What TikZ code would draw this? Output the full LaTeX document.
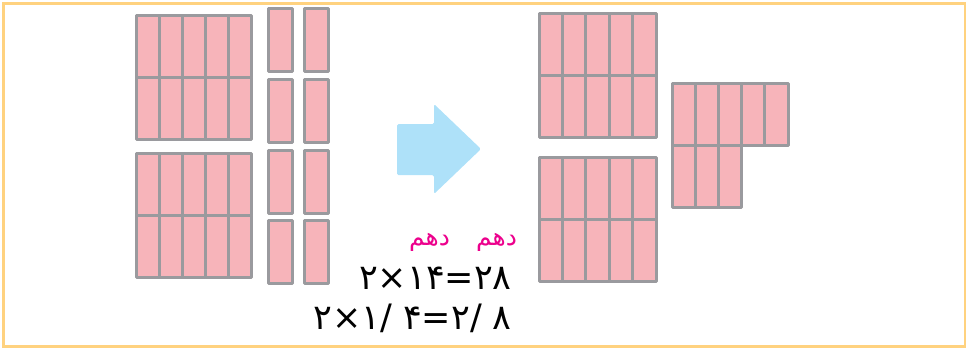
\documentclass[tikz,border=0pt]{standalone}
\usepackage{fontspec}
\newfontfamily\farsifont[Script=Arabic]{DejaVu Sans}
\newfontfamily\digitfont{DejaVu Sans}
\TeXXeTstate=1
\definecolor{tenpink}{HTML}{F7B4BA}
\definecolor{tengray}{HTML}{9A9A9E}
\definecolor{framegold}{HTML}{FFD27F}
\definecolor{arrowblue}{HTML}{AEE1F9}
\definecolor{labelpink}{HTML}{EC008C}
\begin{document}
\begin{tikzpicture}[x=1pt,y=-1pt]
\tikzset{cell/.style={fill=tenpink,draw=tengray,line width=3pt,line join=round}}
\tikzset{eqtext/.style={font=\digitfont\fontsize{35}{40}\selectfont,inner sep=0pt}}
\tikzset{tenthlabel/.style={font=\farsifont\fontsize{25}{28}\selectfont,text=labelpink,inner sep=0pt}}
\useasboundingbox (0,0) rectangle (966,349);
% Draw the frame
\draw[framegold,line width=3pt] (3,3) rectangle (965,346.5);

% left blocks of ten strips
\foreach \top in {15,153} {
\foreach \r in {0,1} {
\foreach \c in {0,1,...,4} {
\draw[cell] (136+23*\c,\top+62*\r) rectangle ++(23,62);
}}}

	%single strips
\foreach \x in {268,304} {
\foreach \top in {8,79,150,220} {
\draw[cell] (\x,\top) rectangle ++(24,63);
}}

% the arrow
\fill[arrowblue,rounded corners=1.5pt] (397,124) -- (434,124) -- (434,104) -- (481,149)
  -- (434,194) -- (434,175) -- (397,175) -- cycle;

% right blocks
\foreach \top in {13,157} {
\foreach \r in {0,1} {
\foreach \c in {0,1,...,4} {
\draw[cell] (539+23.4*\c,\top+62*\r) rectangle ++(23.4,62);
}}}

	%the eight strips left over
\foreach \c in {0,1,...,4} {
\draw[cell] (672+23.2*\c,83) rectangle ++(23.2,62);
}
\foreach \c in {0,1,2} {
\draw[cell] (672+23.2*\c,145) rectangle ++(23.2,62);
}

% the numbers
\node[eqtext,anchor=base east] (eqwhole) at (512,289) {\beginL ۲×۱۴=۲۸\endL};
\node[eqtext,anchor=base east] (eqtenth) at (512,329) {\beginL ۲×۱/ ۴=۲/ ۸\endL};
\node[tenthlabel,anchor=base] (tenthA) at (429.5,245) {\beginR دهم\endR};
\node[tenthlabel,anchor=base] (tenthB) at (496.5,245) {\beginR دهم\endR};
\end{tikzpicture}
\end{document}
